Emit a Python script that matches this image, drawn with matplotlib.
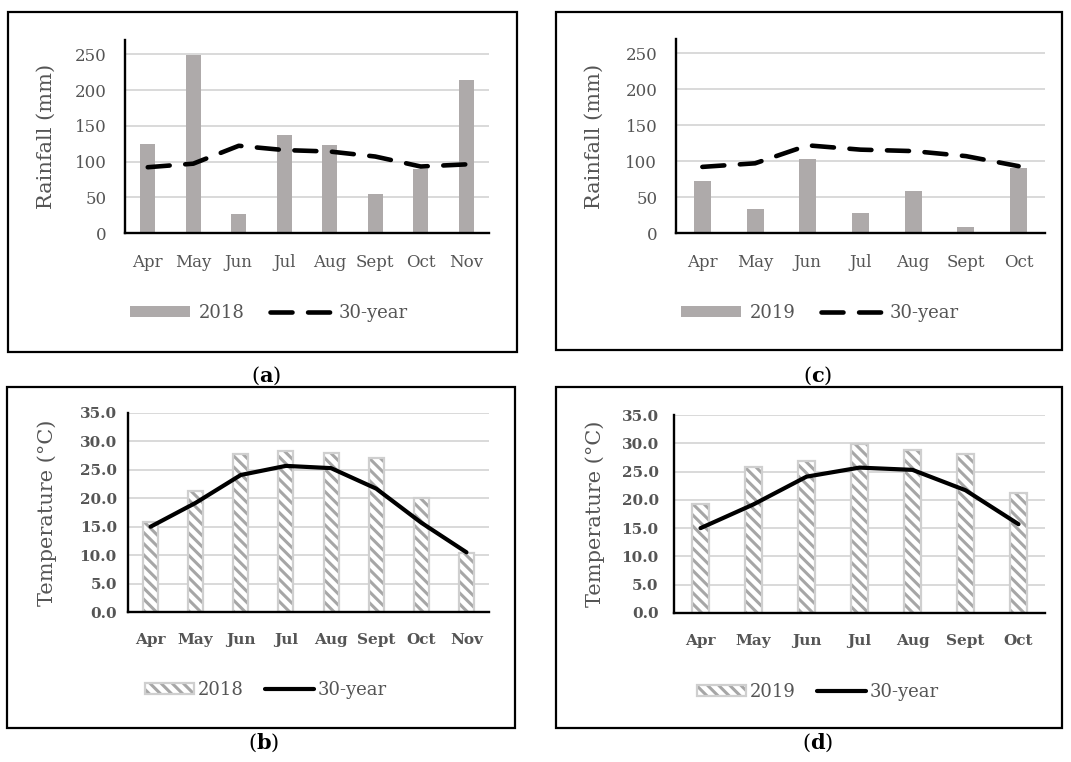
import matplotlib
matplotlib.use('Agg')
import matplotlib.pyplot as plt
from matplotlib.patches import Rectangle
from matplotlib.legend_handler import HandlerTuple
import numpy as np

# monthly data, growing seasons 2018 and 2019
months_2018 = ['Apr', 'May', 'Jun', 'Jul', 'Aug', 'Sept', 'Oct', 'Nov']
months_2019 = ['Apr', 'May', 'Jun', 'Jul', 'Aug', 'Sept', 'Oct']

rain_2018 = [125, 249, 27, 137, 123, 55, 90, 214]
rain_2019 = [73, 34, 103, 28, 59, 9, 91]
rain_30yr = [92, 97, 122, 116, 114, 107, 93, 96]

temp_2018 = [15.9, 21.3, 27.8, 28.4, 28.0, 27.0, 20.0, 10.4]
temp_2019 = [19.3, 25.8, 26.9, 29.9, 28.9, 28.1, 21.2]
temp_30yr = [15.0, 19.2, 24.1, 25.7, 25.3, 21.7, 15.7, 10.5]

W, H = 1071, 762
grey_txt = '#555555'
HATCH = chr(92) * 3   # back-slashes: diagonal stripes

plt.rcParams['font.family'] = 'DejaVu Serif'
plt.rcParams['mathtext.fontset'] = 'dejavuserif'
plt.rcParams['hatch.linewidth'] = 2.2

fig = plt.figure(figsize=(W / 100, H / 100), dpi=100)


def px_rect(x0, y0, x1, y1):
    # pixel box (top-left origin) -> figure fraction [l, b, w, h]
    return [x0 / W, 1 - y1 / H, (x1 - x0) / W, (y1 - y0) / H]


def style_axes(ax, ylim, ticks, fmt, bold, ypad, labelx, ylabel, ylabel_size):
    ax.set_ylim(*ylim)
    ax.set_yticks(ticks)
    ax.set_yticklabels([fmt.format(t) for t in ticks])
    ax.yaxis.grid(True, color='#d9d9d9', lw=1.4)
    ax.set_axisbelow(True)
    for s in ['top', 'right']:
        ax.spines[s].set_visible(False)
    for s in ['left', 'bottom']:
        ax.spines[s].set_linewidth(1.7)
        ax.spines[s].set_color('black')
    weight = 'bold' if bold else 'normal'
    size = 11 if bold else 12
    ax.tick_params(axis='y', length=0, pad=ypad, labelsize=size, labelcolor=grey_txt)
    ax.tick_params(axis='x', length=0, pad=15, labelsize=size, labelcolor=grey_txt)
    for lab in ax.get_xticklabels() + ax.get_yticklabels():
        lab.set_fontweight(weight)
    ax.set_ylabel(ylabel, color=grey_txt, fontsize=ylabel_size)
    ax.yaxis.set_label_coords(labelx, 0.5)


def rain_panel(rect, months, rain, year, ypad, labelx, leg_xy):
    ax = fig.add_axes(px_rect(*rect))
    x = np.arange(len(months))
    bars = ax.bar(x, rain, 0.32, color='#aeaaaa', zorder=2)
    line, = ax.plot(x, rain_30yr[:len(months)], color='black', lw=3.3,
                    dashes=(4.8, 3.4), dash_capstyle='round', zorder=3)
    ax.set_xlim(-0.5, len(months) - 0.5)
    ax.set_xticks(x)
    ax.set_xticklabels(months)
    style_axes(ax, (0, 270), [0, 50, 100, 150, 200, 250], '{:d}', False,
               ypad, labelx, 'Rainfall (mm)', 15)
    ax.legend([bars, line], [year, '30-year'], loc='center',
              bbox_to_anchor=(leg_xy[0] / W, 1 - leg_xy[1] / H),
              bbox_transform=fig.transFigure, ncol=2, frameon=False,
              fontsize=13, labelcolor=grey_txt, handlelength=3.3,
              handleheight=0.55, handletextpad=0.5, columnspacing=1.4)
    return ax


def temp_panel(rect, months, temp, year, ypad, labelx, leg_xy):
    ax = fig.add_axes(px_rect(*rect))
    x = np.arange(len(months))
    # hatched fill and light outline drawn as two layers
    hatch = ax.bar(x, temp, 0.33, color='white', edgecolor='#a6a6a6',
                   linewidth=0, hatch=HATCH, zorder=2)
    edge = ax.bar(x, temp, 0.33, facecolor='none', edgecolor='#cfcfcf',
                  linewidth=1.6, zorder=2)
    line, = ax.plot(x, temp_30yr[:len(months)], color='black', lw=3.0,
                    solid_capstyle='round', zorder=3)
    ax.set_xlim(-0.5, len(months) - 0.5)
    ax.set_xticks(x)
    ax.set_xticklabels(months)
    style_axes(ax, (0, 35), [0, 5, 10, 15, 20, 25, 30, 35], '{:.1f}', True,
               ypad, labelx, 'Temperature (°C)', 15)
    ax.legend([(hatch, edge), line], [year, '30-year'], loc='center',
              handler_map={tuple: HandlerTuple(ndivide=1)},
              bbox_to_anchor=(leg_xy[0] / W, 1 - leg_xy[1] / H),
              bbox_transform=fig.transFigure, ncol=2, frameon=False,
              fontsize=13, labelcolor=grey_txt, handlelength=2.7,
              handleheight=0.6, handletextpad=0.2, columnspacing=1.2)
    return ax


rain_panel((125, 40, 489, 233), months_2018, rain_2018, '2018', 13, -0.19, (269, 313))
rain_panel((676, 39, 1045, 233), months_2019, rain_2019, '2019', 13.5, -0.195, (820, 313))
temp_panel((128, 413, 489, 612), months_2018, temp_2018, '2018', 8, -0.197, (266, 690))
temp_panel((674, 415, 1045, 613), months_2019, temp_2019, '2019', 11, -0.186, (818, 692))

# boxes round each chart
for box in [(8, 12, 517, 352), (556, 12, 1062, 350), (7, 387, 515, 728), (556, 387, 1062, 728)]:
    l, b, w, h = px_rect(*box)
    fig.add_artist(Rectangle((l, b), w, h, transform=fig.transFigure,
                             fill=False, ec='black', lw=1.6))

# panel captions
for letter, cx, cy in [('a', 266, 376), ('c', 818, 376), ('b', 264, 743), ('d', 818, 743)]:
    fig.text(cx / W, 1 - cy / H, r'($\mathbf{' + letter + r'}$)', ha='center',
             va='center', fontsize=15, color='black')

fig.savefig('out.png', dpi=100)
